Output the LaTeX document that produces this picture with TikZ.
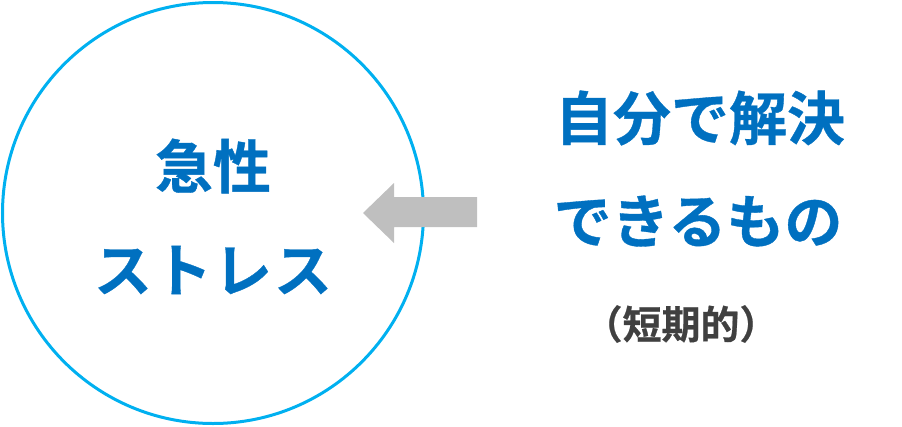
\documentclass[tikz,border=0pt]{standalone}
\usepackage{fontspec}
\newfontfamily\cjk[FakeBold=0.6]{Noto Sans CJK JP Bold}
\definecolor{ringblue}{HTML}{00B0F0}
\definecolor{textblue}{HTML}{0070C0}
\definecolor{arrowgray}{HTML}{BFBFBF}
\definecolor{darktext}{HTML}{404040}
\begin{document}
\begin{tikzpicture}[x=1pt,y=-1pt,
  bigtext/.style={font=\cjk\fontsize{58}{60}\selectfont, text=textblue, inner sep=0pt, anchor=center},
  smalltext/.style={font=\cjk\fontsize{39}{42}\selectfont, text=darktext, inner sep=0pt, anchor=center},
  ring/.style={draw=ringblue, line width=3pt},
  blockarrow/.style={fill=arrowgray, draw=none}]
\useasboundingbox (0,0) rectangle (902,426);
\draw[ring] (213,213) circle[radius=210.5];
\node[bigtext] (kyusei) at (213,166) {急性};
\node[bigtext] (stress) at (213,270) {ス\kern2ptト\kern2ptレ\kern2ptス};
\node[bigtext] (jibun) at (700,118) {自分で解決};
\node[bigtext] (dekiru) at (698,221) {できるもの};
\node[smalltext] (tanki) at (681,324) {（短期的）};
\fill[blockarrow] (477,197) -- (394,197) -- (394,183) -- (363,213) -- (394,243) -- (394,227) -- (477,227) -- cycle;
\end{tikzpicture}
\end{document}
